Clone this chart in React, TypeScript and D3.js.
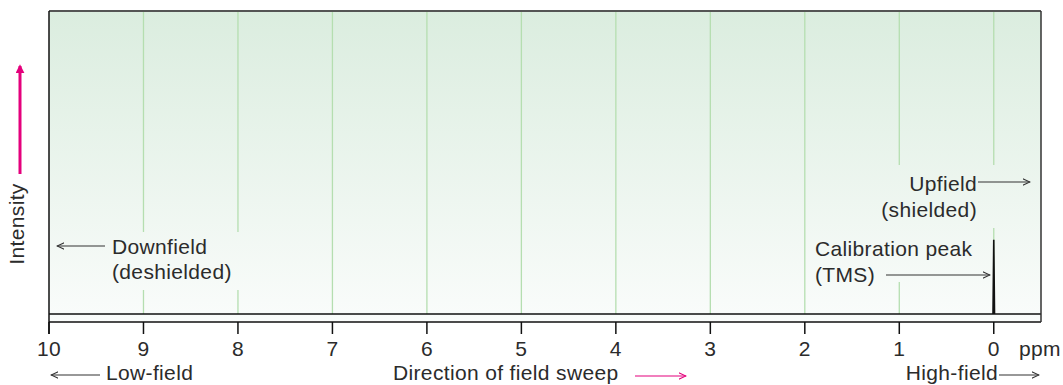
import React from "react";
import * as d3 from "d3";

const ticks = [10, 9, 8, 7, 6, 5, 4, 3, 2, 1, 0];
const gridPpm = [9, 8, 7, 6, 5, 4, 3, 2, 1, 0];
const peakPpm = [0];
const peakIntensity = [0.245];

const W = 1063, H = 385;
const left = 49, right = 1041, top = 11, base = 314, axisY = 322;
const FONT = "'Liberation Sans', Arial, sans-serif";
const TXT = "#2b2b2b";
const PINK = "#e4007c";
const FS = 21;
const LS = 0.35;

export default function App() {
  const x = d3.scaleLinear().domain([10, -0.5]).range([left, right]);
  const y = d3.scaleLinear().domain([0, 1]).range([base, top]);

  // gaps in grid lines (pixel y ranges) to keep text readable
  const gaps: Record<number, [number, number][]> = {
    9: [[232, 290]],
    8: [[232, 290]],
    1: [[165, 282]],
    0: [[165, 228]],
  };
  const gridSegs = gridPpm.flatMap((p) => {
    const g = gaps[p] || [];
    const segs: [number, number][] = [];
    let s = top;
    g.forEach(([a, b]) => { segs.push([s, a]); s = b; });
    segs.push([s, base]);
    return segs.map(([a, b]) => ({ p, a, b }));
  });

  const spectrum: [number, number][] = [[10, 0]];
  peakPpm.forEach((p, i) => {
    spectrum.push([p + 0.008, 0], [p, peakIntensity[i]], [p - 0.008, 0]);
  });
  spectrum.push([-0.5, 0]);
  const line = d3.line<[number, number]>().x((d) => x(d[0])).y((d) => y(d[1]));

  const arrow = (x1: number, y1: number, x2: number, y2: number, color: string, id: string, w = 1.2) => (
    <line x1={x1} y1={y1} x2={x2} y2={y2} stroke={color} strokeWidth={w} markerEnd={`url(#${id})`} />
  );
  const T = (props: any) => <text fontSize={FS} fill={TXT} letterSpacing={LS} {...props} />;

  return (
    <svg width={W} height={H} style={{ position: "absolute", left: 0, top: 0 }} fontFamily={FONT}>
      <defs>
        <linearGradient id="bg" x1="0" y1="0" x2="0" y2="1">
          <stop offset="0" stopColor="#dbeddf" />
          <stop offset="1" stopColor="#fafcfb" />
        </linearGradient>
        <marker id="ah" viewBox="0 0 10 10" refX="9" refY="5" markerWidth="8" markerHeight="8" markerUnits="userSpaceOnUse" orient="auto">
          <path d="M0,1 L9,5 L0,9" fill="none" stroke="#333" strokeWidth="1.3" />
        </marker>
        <marker id="ahp" viewBox="0 0 10 10" refX="9" refY="5" markerWidth="8" markerHeight="8" markerUnits="userSpaceOnUse" orient="auto">
          <path d="M0,1 L9,5 L0,9" fill="none" stroke={PINK} strokeWidth="1.3" />
        </marker>
        <marker id="ahpf" viewBox="0 0 10 10" refX="8" refY="5" markerWidth="9" markerHeight="9" markerUnits="userSpaceOnUse" orient="auto">
          <path d="M0,0 L10,5 L0,10 Z" fill={PINK} />
        </marker>
      </defs>
      <rect x={left} y={top} width={right - left} height={axisY - top} fill="url(#bg)" />
      {gridSegs.map((s, i) => (
        <line key={i} x1={x(s.p)} x2={x(s.p)} y1={s.a} y2={s.b} stroke="#b5deb0" strokeWidth={1.3} />
      ))}
      <path d={line(spectrum) || ""} fill="none" stroke="#111" strokeWidth={1.6} />
      <line x1={left} x2={right} y1={axisY} y2={axisY} stroke="#111" strokeWidth={1.5} />
      <line x1={left} x2={right} y1={top} y2={top} stroke="#555" strokeWidth={2} />
      <line x1={left} x2={left} y1={top} y2={axisY + 12} stroke="#111" strokeWidth={1.5} />
      <line x1={right} x2={right} y1={top} y2={axisY} stroke="#333" strokeWidth={1.5} />
      {ticks.map((t) => (
        <g key={t}>
          <line x1={x(t)} x2={x(t)} y1={axisY} y2={axisY + 12} stroke="#111" strokeWidth={1.5} />
          <T x={x(t)} y={356} textAnchor="middle">{t}</T>
        </g>
      ))}
      <T x={1019} y={356}>ppm</T>

      {/* Intensity */}
      <T transform="translate(24,224) rotate(-90)" textAnchor="middle">Intensity</T>
      {arrow(20, 174, 20, 66, PINK, "ahpf", 3)}

      {/* Downfield */}
      {arrow(105, 246, 57, 246, "#333", "ah")}
      <T x={112} y={254}>Downfield</T>
      <T x={112} y={279}>(deshielded)</T>

      {/* Upfield */}
      <T x={977} y={191} textAnchor="end">Upfield</T>
      {arrow(978, 182, 1030, 182, "#333", "ah")}
      <T x={977} y={217} textAnchor="end">(shielded)</T>

      {/* Calibration */}
      <T x={815} y={256}>Calibration peak</T>
      <T x={815} y={282}>(TMS)</T>
      {arrow(886, 275, 990, 275, "#333", "ah")}

      {/* bottom */}
      {arrow(100, 375, 51, 375, "#333", "ah")}
      <T x={106} y={380}>Low-field</T>
      <T x={393} y={380}>Direction of field sweep</T>
      {arrow(635, 376, 686, 376, PINK, "ahp")}
      <T x={998} y={380} textAnchor="end">High-field</T>
      {arrow(999, 375, 1039, 375, "#333", "ah")}
    </svg>
  );
}
